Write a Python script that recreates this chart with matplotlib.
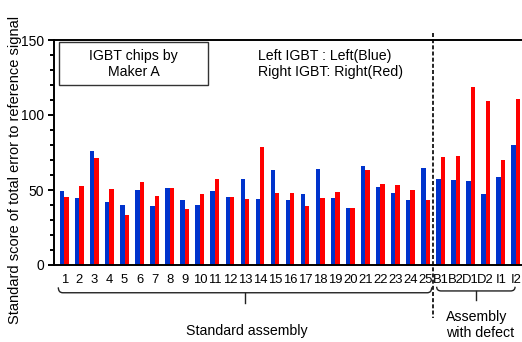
import matplotlib
matplotlib.use("Agg")
import matplotlib.pyplot as plt
import numpy as np
from matplotlib.path import Path
from matplotlib.patches import PathPatch, Rectangle
from matplotlib.ticker import MultipleLocator, FixedLocator

plt.rcParams['font.family'] = ['Liberation Sans', 'DejaVu Sans']

categories = [str(i) for i in range(1, 26)] + ['B1', 'B2', 'D1', 'D2', 'I1', 'I2']
left_igbt = [49.3, 44.4, 76.0, 41.8, 40.0, 49.8, 39.1, 51.6, 43.1, 40.0,
             49.1, 45.3, 57.3, 43.8, 63.3, 43.3, 47.3, 64.0, 44.4, 37.8,
             66.2, 52.0, 48.0, 43.1, 64.7,
             57.3, 56.7, 56.0, 47.6, 58.7, 79.8]
right_igbt = [45.3, 52.4, 71.1, 50.7, 33.6, 55.1, 46.2, 51.1, 37.3, 47.3,
              57.3, 45.1, 43.8, 78.7, 47.8, 47.8, 39.6, 44.4, 48.7, 37.8,
              63.1, 53.8, 53.1, 50.0, 43.1,
              72.2, 72.9, 118.7, 109.1, 70.2, 110.4]

blue = '#0033CC'
red = '#FF0000'

fig = plt.figure(figsize=(5.22, 3.42), dpi=100)
ax = fig.add_axes([53.5 / 522, 1 - 265 / 342, 1 - 53.5 / 522, (265 - 40) / 342])

x = np.arange(len(categories))
w = 0.29
ax.bar(x - w / 2, left_igbt, width=w, color=blue, linewidth=0)
ax.bar(x + w / 2, right_igbt, width=w, color=red, linewidth=0)

ax.set_xlim(-0.72, 30.41)
ax.set_ylim(0, 150)

ax.set_xticks(x)
ax.set_xticklabels(categories, fontsize=9.4)
ax.tick_params(axis='x', length=0, pad=6.5)
ax.yaxis.set_major_locator(MultipleLocator(50))
ax.yaxis.set_minor_locator(FixedLocator([v for v in range(10, 150, 10) if v % 50]))
ax.tick_params(axis='y', which='major', length=4, width=1.4, labelsize=10, pad=3)
ax.tick_params(axis='y', which='minor', length=3, width=1.4)

for s in ('left', 'bottom', 'top'):
    ax.spines[s].set_linewidth(1.4)
ax.spines['right'].set_visible(False)

fig.text(15 / 522, 1 - 170 / 342, 'Standard score of total error to reference signal',
         rotation=90, ha='center', va='center', fontsize=10.5)

# legend-style notes
ax.add_patch(Rectangle((-0.33, 119.8), 9.88, 28.7, fill=False,
                       edgecolor='#333333', linewidth=1.0))
ax.text(4.61, 134.1, 'IGBT chips by\nMaker A', ha='center', va='center',
        fontsize=10.2, linespacing=1.15)
ax.text(12.85, 134.0, 'Left IGBT : Left(Blue)\nRight IGBT: Right(Red)',
        ha='left', va='center', fontsize=10.2, linespacing=1.15)

# divider between groups
ax.plot([24.5, 24.5], [154.7, -35.3], color='black', lw=1.2,
        linestyle=(0, (2.4, 1.3)), clip_on=False)


def brace(x0, x1, xc, y_end, y_line, y_tip):
    r = 0.3
    verts = [(x0, y_end), (x0, y_line), (x0 + r, y_line),
             (x1 - r, y_line), (x1, y_line), (x1, y_end)]
    codes = [Path.MOVETO, Path.CURVE3, Path.CURVE3,
             Path.LINETO, Path.CURVE3, Path.CURVE3]
    ax.add_patch(PathPatch(Path(verts, codes), fill=False, lw=1.0,
                           edgecolor='#222222', clip_on=False))
    ax.plot([xc, xc], [y_line, y_tip], color='#222222', lw=1.0, clip_on=False)


brace(-0.4, 24.41, 12.0, -14.9, -18.5, -25.3)
brace(24.74, 29.95, 27.36, -14.5, -17.3, -23.3)

ax.text(12.12, -44, 'Standard assembly', ha='center', va='center',
        fontsize=10.2, clip_on=False)
ax.text(25.33, -40, 'Assembly\nwith defect', ha='left', va='center',
        fontsize=10.2, linespacing=1.15, clip_on=False)

fig.savefig('out.png', dpi=100)
